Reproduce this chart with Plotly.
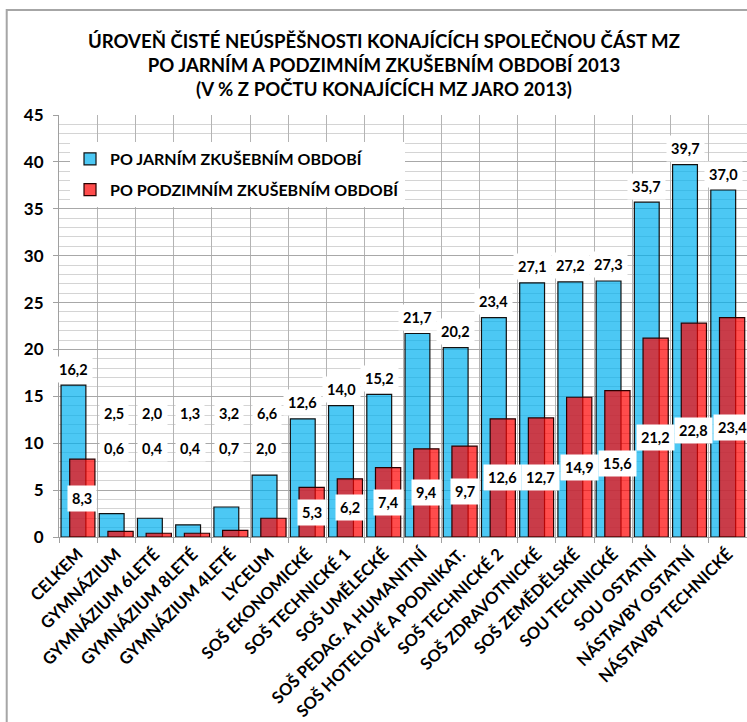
import plotly.graph_objects as go

# Categories of schools and the share of students who failed (in %)
categories = [
    "CELKEM", "GYMNÁZIUM", "GYMNÁZIUM 6LETÉ", "GYMNÁZIUM 8LETÉ", "GYMNÁZIUM 4LETÉ",
    "LYCEUM", "SOŠ EKONOMICKÉ", "SOŠ TECHNICKÉ 1", "SOŠ UMĚLECKÉ",
    "SOŠ PEDAG. A HUMANITNÍ", "SOŠ HOTELOVÉ A PODNIKAT.", "SOŠ TECHNICKÉ 2",
    "SOŠ ZDRAVOTNICKÉ", "SOŠ ZEMĚDĚLSKÉ", "SOU TECHNICKÉ", "SOU OSTATNÍ",
    "NÁSTAVBY OSTATNÍ", "NÁSTAVBY TECHNICKÉ",
]
spring = [16.2, 2.5, 2.0, 1.3, 3.2, 6.6, 12.6, 14.0, 15.2, 21.7, 20.2, 23.4,
          27.1, 27.2, 27.3, 35.7, 39.7, 37.0]
autumn = [8.3, 0.6, 0.4, 0.4, 0.7, 2.0, 5.3, 6.2, 7.4, 9.4, 9.7, 12.6,
          12.7, 14.9, 15.6, 21.2, 22.8, 23.4]
y_ticks = [0, 5, 10, 15, 20, 25, 30, 35, 40, 45]

series_names = ["PO JARNÍM ZKUŠEBNÍM OBDOBÍ", "PO PODZIMNÍM ZKUŠEBNÍM OBDOBÍ"]
title_lines = [
    "ÚROVEŇ ČISTÉ NEÚSPĚŠNOSTI KONAJÍCÍCH SPOLEČNOU ČÁST MZ",
    "PO JARNÍM A PODZIMNÍM ZKUŠEBNÍM OBDOBÍ 2013",
    "(V % Z POČTU KONAJÍCÍCH MZ JARO 2013)",
]

FONT = "Lato"
BLUE_OFFSET, BLUE_WIDTH = -0.447, 0.65
RED_OFFSET, RED_WIDTH = -0.22, 0.66

fig = go.Figure()
fig.add_trace(go.Bar(
    name=series_names[0], x=categories, y=spring,
    offset=BLUE_OFFSET, width=BLUE_WIDTH, legendgroup="jaro",
    marker=dict(color="rgba(0,176,240,0.70)", line=dict(color="#111111", width=1.2)),
))
fig.add_trace(go.Bar(
    name=series_names[1], x=categories, y=autumn,
    offset=RED_OFFSET, width=RED_WIDTH, legendgroup="podzim",
    marker=dict(color="rgba(255,0,0,0.70)", line=dict(color="#2a0000", width=1.2)),
))


def fmt(v):
    return f"{v:.1f}".replace(".", ",")


# value labels in white boxes; short bars get their labels lifted above
LIFT_BELOW = 10
annotations = []
label_font = dict(family=FONT, size=14.5, color="black", weight="bold")
for i, (s, a) in enumerate(zip(spring, autumn)):
    if s < LIFT_BELOW:
        bx, by, bshift = i - 0.06, 13.2, 0
        rx, ry = i - 0.06, 9.4
    else:
        bx, by, bshift = i + BLUE_OFFSET + BLUE_WIDTH / 2, s, 16
        rx, ry = i + RED_OFFSET + RED_WIDTH / 2, a / 2
    annotations.append(dict(x=bx, y=by, yshift=bshift, xref="x", yref="y",
                            text=fmt(s), showarrow=False, bgcolor="white",
                            borderpad=4, font=label_font))
    annotations.append(dict(x=rx, y=ry, xref="x", yref="y",
                            text=fmt(a), showarrow=False, bgcolor="white",
                            borderpad=4, font=label_font))

fig.update_layout(
    width=747, height=722, autosize=False,
    margin=dict(l=59, r=0, t=115, b=185),
    paper_bgcolor="white", plot_bgcolor="white",
    barmode="overlay",
    font=dict(family=FONT, color="black"),
    title=dict(
        text="<br>".join(title_lines),
        x=0.514, xanchor="center", xref="container",
        y=1 - 48 / 722, yanchor="top", yref="container",
        font=dict(family=FONT, size=18.6, color="black", weight="bold"),
    ),
    legend=dict(
        x=0.016, y=0.936, xanchor="left", yanchor="top",
        bgcolor="white", borderwidth=0, tracegroupgap=7,
        font=dict(family=FONT, size=16, color="black", weight="bold"),
        traceorder="grouped",
    ),
    xaxis=dict(
        type="category", tickangle=-45, tickson="boundaries",
        ticks="outside", ticklen=5, tickcolor="#a0a0a0",
        showgrid=True, gridcolor="#b4b4b4", gridwidth=1,
        showline=True, linecolor="#a0a0a0", linewidth=1,
        tickfont=dict(family=FONT, size=16.6, color="black", weight="bold"),
        range=[-0.5, len(categories) - 0.5], automargin=False,
    ),
    yaxis=dict(
        range=[0, 45], tickvals=y_ticks, ticks="outside", ticklen=5,
        tickcolor="#a0a0a0", ticklabelstandoff=6,
        showgrid=True, gridcolor="#a8a8a8", gridwidth=1,
        showline=True, linecolor="#a0a0a0", linewidth=1,
        zeroline=False, automargin=False,
        minor=dict(dtick=1, showgrid=True, gridcolor="#d4d4d4", gridwidth=1),
        tickfont=dict(family=FONT, size=17, color="black", weight="bold"),
    ),
    annotations=annotations,
    # outer frame around the whole chart (left and top edges are in view)
    shapes=[
        dict(type="rect", xref="paper", yref="paper",
             x0=-0.076, x1=1.08, y0=-0.5, y1=1.249, layer="below",
             fillcolor="rgba(0,0,0,0)",
             line=dict(color="#a6a6a6", width=2)),
    ],
)

fig.write_html("out.html")
